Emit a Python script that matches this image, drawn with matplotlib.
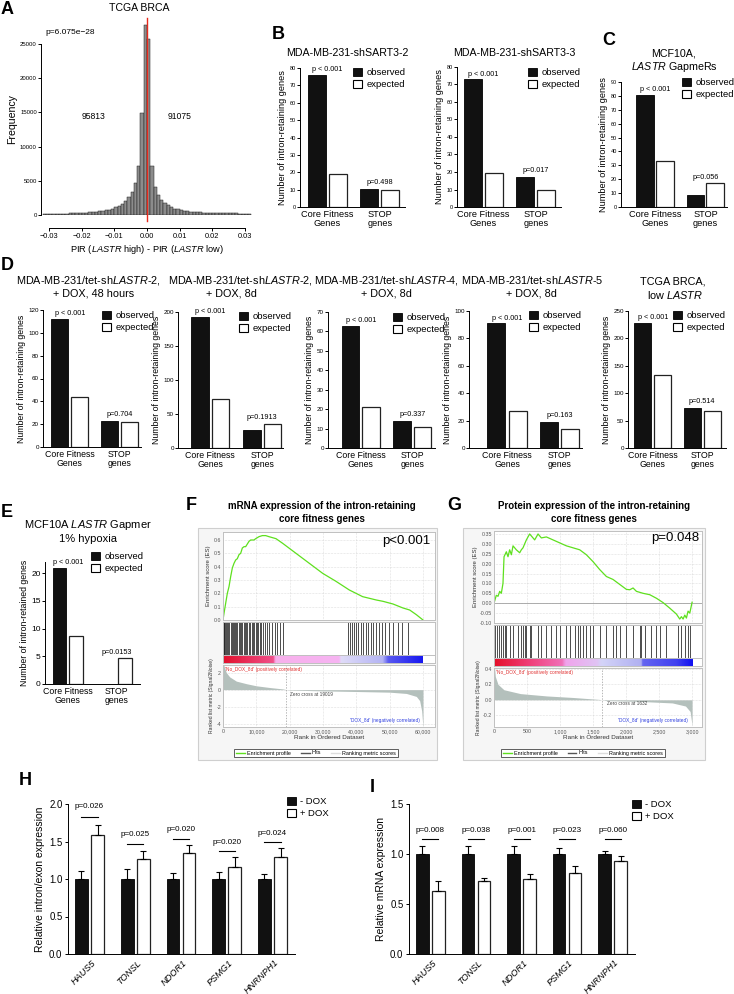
import numpy as np
import matplotlib.pyplot as plt
from matplotlib.patches import Patch, Rectangle
from matplotlib.lines import Line2D
from matplotlib.colors import LinearSegmentedColormap

plt.rcParams['font.family'] = ['Liberation Sans', 'DejaVu Sans']
plt.rcParams['mathtext.fontset'] = 'custom'
plt.rcParams['mathtext.rm'] = 'Liberation Sans'
plt.rcParams['mathtext.it'] = 'Liberation Sans:italic'
plt.rcParams['axes.linewidth'] = 0.7
plt.rcParams['xtick.major.width'] = 0.7
plt.rcParams['ytick.major.width'] = 0.7

W, H = 734, 994

# ---------------- data ----------------
# A: PIR(LASTR high) - PIR(LASTR low), bins of 0.001 from -0.032
pir_start = -0.032
pir_bin = 0.001
pir_counts_neg = [120, 130, 140, 150, 160, 175, 190, 210, 230, 250, 270, 300, 330, 360, 400, 450,
                  500, 560, 620, 700, 800, 950, 1100, 1300, 1600, 2000, 2600, 3300, 4700, 7200,
                  14900, 27800]
pir_counts_pos = [25700, 7100, 4100, 2900, 2200, 1700, 1400, 1150, 950, 830, 730, 640, 560, 500,
                  450, 410, 380, 350, 330, 310, 290, 280, 270, 260, 250, 240, 230, 220, 210, 200,
                  190, 180]

groups = ['Core Fitness\nGenes', 'STOP\ngenes']
# observed / expected intron-retaining genes  [core fitness, STOP]
b1_obs, b1_exp, b1_p = [76, 10.5], [19, 10], ['p < 0.001', 'p=0.498']
b2_obs, b2_exp, b2_p = [73, 17], [19.5, 10], ['p < 0.001', 'p=0.017']
c_obs, c_exp, c_p = [81, 9], [33, 17], ['p < 0.001', 'p=0.056']
d1_obs, d1_exp, d1_p = [112, 23], [44, 22], ['p < 0.001', 'p=0.704']
d2_obs, d2_exp, d2_p = [193, 27], [72, 36], ['p < 0.001', 'p=0.1913']
d3_obs, d3_exp, d3_p = [63, 14], [21, 11], ['p < 0.001', 'p=0.337']
d4_obs, d4_exp, d4_p = [91, 19], [27, 14], ['p < 0.001', 'p=0.163']
d5_obs, d5_exp, d5_p = [228, 73], [134, 68], ['p < 0.001', 'p=0.514']
e_obs, e_exp, e_p = [21, 0], [8.6, 4.6], ['p < 0.001', 'p=0.0153']

# F: GSEA mRNA
f_es_rank = [0, 300, 800, 1300, 1800, 2300, 2800, 3300, 3800, 4300, 4800, 5300, 5800, 6300, 6800,
             7800, 8300, 9300, 9800, 10800, 11800, 12800, 13800, 15900, 17900, 21900, 25900, 29900,
             33900, 37900, 41900, 46000, 48000, 51000, 54000, 56000, 58000, 60000]
f_es = [0.0, 0.05, 0.125, 0.2, 0.25, 0.325, 0.39, 0.425, 0.45, 0.46, 0.49, 0.5, 0.54, 0.55, 0.55,
        0.59, 0.6, 0.6, 0.61, 0.625, 0.633, 0.633, 0.625, 0.61, 0.575, 0.5, 0.425, 0.35, 0.29,
        0.225, 0.175, 0.15, 0.14, 0.12, 0.09, 0.075, 0.04, 0.0]
f_hits = [150, 400, 700, 1000, 1300, 1500, 1900, 2300, 2600, 2900, 3300, 3600, 4000, 4300, 4700,
          5100, 5500, 5800, 6200, 6600, 7000, 7300, 7800, 8200, 8600, 9000, 9300, 9800, 10200,
          10600, 11000, 11500, 12000, 12600, 13200, 13900, 14600, 15500, 16200, 17000, 17900,
          37400, 38000, 38700, 39200, 39900, 40500, 41300, 42000, 42800, 43500, 44300, 45000,
          45900, 46800, 47600, 48700, 49800, 51000, 52500, 53600, 55500]
f_rank_x = [0, 300, 1000, 2000, 4000, 7000, 10000, 14000, 18000, 19019, 20000, 30000, 40000, 50000,
            55000, 58000, 59000, 59600, 60000]
f_rank_y = [3.5, 2.8, 2.0, 1.5, 1.0, 0.7, 0.45, 0.25, 0.08, 0.0, -0.05, -0.15, -0.22, -0.3, -0.45,
            -0.8, -1.3, -2.5, -4.5]

# G: GSEA protein
g_es_rank = [0, 35, 61, 86, 111, 136, 152, 187, 212, 237, 263, 288, 338, 389, 414, 439, 490, 540,
             591, 616, 667, 717, 793, 894, 995, 1096, 1197, 1298, 1399, 1500, 1601, 1702, 1803, 1904,
             2005, 2056, 2106, 2157, 2258, 2359, 2460, 2561, 2662, 2763, 2813, 2838, 2864, 2889, 2914,
             2939, 2965, 3000]
g_es = [0.0, 0.04, 0.035, 0.06, 0.05, 0.10, 0.235, 0.26, 0.235, 0.27, 0.245, 0.29, 0.27, 0.255,
        0.27, 0.28, 0.32, 0.35, 0.33, 0.32, 0.35, 0.33, 0.335, 0.32, 0.305, 0.29, 0.28, 0.27, 0.245,
        0.21, 0.17, 0.135, 0.12, 0.095, 0.07, 0.068, 0.077, 0.06, 0.05, 0.043, 0.025, 0.003, -0.025,
        -0.055, -0.08, -0.068, -0.08, -0.06, -0.075, -0.04, -0.05, 0.005]
g_hits = [10, 45, 76, 111, 136, 162, 187, 237, 288, 364, 414, 439, 465, 490, 540, 566, 667, 717,
          793, 869, 944, 995, 1096, 1146, 1222, 1273, 1298, 1348, 1399, 1449, 1500, 1601, 1702,
          1803, 1854, 1904, 2005, 2106, 2207, 2232, 2283, 2384, 2460, 2510, 2611, 2788, 2838, 2889,
          2939, 2965]
g_rank_x = [0, 20, 60, 150, 400, 800, 1200, 1600, 1632, 1700, 2200, 2700, 2900, 2970, 3000]
g_rank_y = [0.5, 0.3, 0.2, 0.13, 0.08, 0.05, 0.03, 0.005, 0.0, -0.01, -0.02, -0.04, -0.08, -0.15, -0.33]

# H / I: qPCR
genes = ['HAUS5', 'TONSL', 'NDOR1', 'PSMG1', 'HNRNPH1']
h_minus = [1.0, 1.0, 1.0, 1.0, 1.0]
h_minus_err = [0.11, 0.14, 0.08, 0.09, 0.07]
h_plus = [1.59, 1.27, 1.35, 1.16, 1.29]
h_plus_err = [0.125, 0.11, 0.10, 0.13, 0.12]
h_p = ['p=0.026', 'p=0.025', 'p=0.020', 'p=0.020', 'p=0.024']
i_minus = [1.0, 1.0, 1.0, 1.0, 1.0]
i_minus_err = [0.08, 0.08, 0.08, 0.056, 0.033]
i_plus = [0.635, 0.727, 0.748, 0.807, 0.934]
i_plus_err = [0.092, 0.037, 0.049, 0.07, 0.043]
i_p = ['p=0.008', 'p=0.038', 'p=0.001', 'p=0.023', 'p=0.060']

fig = plt.figure(figsize=(W / 100, H / 100), dpi=100)


def ax_px(x0, y0, x1, y1):
    return fig.add_axes([x0 / W, 1 - y1 / H, (x1 - x0) / W, (y1 - y0) / H])


def ftext(x, y, s, **kw):
    kw.setdefault('ha', 'center')
    kw.setdefault('va', 'center')
    fig.text(x / W, 1 - y / H, s, **kw)


def letter(x, y, s):
    fig.text(x / W, 1 - y / H, s, fontsize=13, fontweight='bold', ha='left', va='top')


def sq_legend(ax, xy, labels, fs):
    handles = [Patch(facecolor='#111111', edgecolor='black', lw=0.6),
               Patch(facecolor='white', edgecolor='black', lw=0.8)]
    ax.legend(handles, labels, loc='upper left', bbox_to_anchor=(xy[0] / W, 1 - xy[1] / H),
              bbox_transform=fig.transFigure, frameon=False, fontsize=fs, handlelength=1.0,
              handleheight=1.0, handletextpad=0.4, borderpad=0, borderaxespad=0, labelspacing=0.25)


def obs_exp(box, obs, exp, pvals, ymax, ystep, ylabel, leg_xy, pos=(0, 1, 2.5, 3.5),
            xlim=(-0.8, 4.2), tick_fs=4.5, lab_fs=6.6, p_fs=5.2, wid=0.85):
    ax = ax_px(*box)
    ax.bar([pos[0], pos[2]], obs, wid, color='#111111', edgecolor='black', lw=0.6)
    ax.bar([pos[1], pos[3]], exp, wid, color='white', edgecolor='#222222', lw=0.9)
    ax.set_xlim(*xlim)
    ax.set_ylim(0, ymax)
    ax.set_yticks(np.arange(0, ymax + 0.01, ystep))
    ax.tick_params(axis='y', labelsize=tick_fs, length=2, pad=1)
    ax.set_xticks([(pos[0] + pos[1]) / 2, (pos[2] + pos[3]) / 2])
    ax.set_xticklabels(groups, fontsize=lab_fs, linespacing=1.0)
    ax.tick_params(axis='x', length=0, pad=2)
    ax.set_ylabel(ylabel, fontsize=lab_fs, labelpad=2)
    for s in ['top', 'right']:
        ax.spines[s].set_visible(False)
    ax.text((pos[0] + pos[1]) / 2, obs[0] + ymax * 0.012, pvals[0], ha='center', va='bottom',
            fontsize=p_fs)
    ax.text((pos[2] + pos[3]) / 2, max(obs[1], exp[1]) + ymax * 0.02, pvals[1], ha='center',
            va='bottom', fontsize=p_fs)
    sq_legend(ax, leg_xy, ['observed', 'expected'], 6.8)
    return ax


# ---------------- A ----------------
letter(1, 1, 'A')
ax = ax_px(41, 23.5, 253, 215)
edges = pir_start + np.arange(len(pir_counts_neg) + len(pir_counts_pos)) * pir_bin
ax.bar(edges, pir_counts_neg + pir_counts_pos, width=pir_bin, align='edge', color='#8c8c8c',
       edgecolor='#1e1e1e', lw=0.35)
ax.plot([0, 0], [-900, 28800], color='#e8291c', lw=1.0, clip_on=False)
ax.set_xlim(-0.0325, 0.0325)
ax.set_ylim(0, 28000)
ax.spines['bottom'].set_position(('outward', 9))
ax.spines['bottom'].set_bounds(-0.03, 0.03)
ax.spines['left'].set_bounds(0, 25000)
for s in ['top', 'right']:
    ax.spines[s].set_visible(False)
ax.set_xticks(np.round(np.arange(-0.03, 0.031, 0.01), 2))
ax.set_xticklabels(['\u22120.03', '\u22120.02', '\u22120.01', '0.00', '0.01', '0.02', '0.03'])
ax.tick_params(axis='x', labelsize=5.3, length=2.5, pad=1.5)
ax.set_yticks(np.arange(0, 25001, 5000))
ax.tick_params(axis='y', labelsize=4.3, length=2, pad=1)
ax.set_ylabel('Frequency', fontsize=7.6, labelpad=2)
ax.set_xlabel(r'PIR ($\it{LASTR}$ high) - PIR ($\it{LASTR}$ low)', fontsize=6.7, labelpad=2)
ftext(139, 8, 'TCGA BRCA', fontsize=7.6)
ftext(45, 32, 'p=6.075e\u221228', fontsize=6, ha='left')
ftext(94, 117, '95813', fontsize=6.2)
ftext(180, 117, '91075', fontsize=6.2)

# ---------------- B / C ----------------
ylab = 'Number of intron-retaining genes'
letter(272, 26, 'B')
obs_exp((300, 68, 405, 207), b1_obs, b1_exp, b1_p, 80, 10, ylab, (353, 68), tick_fs=4)
ftext(347, 53, 'MDA-MB-231-shSART3-2', fontsize=7.7)
obs_exp((457, 67, 561, 207), b2_obs, b2_exp, b2_p, 80, 10, ylab, (528, 68), tick_fs=4,
        xlim=(-0.75, 4.2))
ftext(514, 53, 'MDA-MB-231-shSART3-3', fontsize=7.7)
letter(602, 32, 'C')
obs_exp((621, 82, 727, 207), c_obs, c_exp, c_p, 90, 10, ylab, (682, 78), tick_fs=4,
        pos=(0, 0.95, 2.4, 3.35), xlim=(-1.14, 3.9))
ftext(674, 53, 'MCF10A,', fontsize=7.7)
ftext(674, 67, r'$\it{LASTR}$ GapmeRs', fontsize=7.7)

# ---------------- D ----------------
letter(1, 257, 'D')
obs_exp((43, 310, 141, 447), d1_obs, d1_exp, d1_p, 120, 20, ylab, (102, 311), lab_fs=6.3,
        xlim=(-0.85, 4.1))
ftext(88, 280, r'MDA-MB-231/tet-sh$\it{LASTR}$-2,', fontsize=7.8)
ftext(94, 293, '+ DOX, 48 hours', fontsize=7.8)
obs_exp((178, 312, 283, 448), d2_obs, d2_exp, d2_p, 200, 50, ylab, (239, 312), lab_fs=6.3,
        xlim=(-1.05, 4.0))
ftext(240, 280, r'MDA-MB-231/tet-sh$\it{LASTR}$-2,', fontsize=7.8)
ftext(231, 293, '+ DOX, 8d', fontsize=7.8)
obs_exp((328, 312, 435, 448), d3_obs, d3_exp, d3_p, 70, 10, ylab, (393, 313), lab_fs=6.3,
        xlim=(-1.1, 4.1))
ftext(386, 280, r'MDA-MB-231/tet-sh$\it{LASTR}$-4,', fontsize=7.8)
ftext(386, 293, '+ DOX, 8d', fontsize=7.8)
obs_exp((469, 311, 582, 448), d4_obs, d4_exp, d4_p, 100, 20, ylab, (529, 311), lab_fs=6.3,
        xlim=(-1.3, 4.05))
ftext(532, 280, r'MDA-MB-231/tet-sh$\it{LASTR}$-5', fontsize=7.8)
ftext(531, 293, '+ DOX, 8d', fontsize=7.8)
obs_exp((628, 311, 726, 448), d5_obs, d5_exp, d5_p, 250, 50, ylab, (673, 311), lab_fs=6.3,
        xlim=(-0.75, 4.2))
ftext(673, 282, 'TCGA BRCA,', fontsize=7.8)
ftext(675, 295, r'low $\it{LASTR}$', fontsize=7.8)

# ---------------- E ----------------
letter(1, 504, 'E')
ax = obs_exp((45, 562, 140, 684), e_obs, e_exp, e_p, 22, 5, 'Number of intron-retained genes',
             (91, 552), pos=(0, 1, 2.9, 3.9), xlim=(-0.85, 4.8), tick_fs=6, lab_fs=6.3, wid=0.8)
ftext(88, 525, r'MCF10A $\it{LASTR}$ Gapmer', fontsize=8)
ftext(88, 539, '1% hypoxia', fontsize=8)


# ---------------- F / G ----------------
def gsea(frame, x0, x1, xmax, es_y0, es_y1, es_x, es_v, es_lim, es_ticks, es_fmt, hits,
         bar_nodes, rk_x, rk_y, rk_lim, rk_ticks, rk_fmt, xticks, xlabels, zero, pval, p_xy,
         leg_xy):
    fx0, fy0, fx1, fy1 = frame
    fig.add_artist(Rectangle((fx0 / W, 1 - fy1 / H), (fx1 - fx0) / W, (fy1 - fy0) / H,
                             transform=fig.transFigure, facecolor='#f6f6f6',
                             edgecolor='#cfcfcf', lw=0.8, zorder=0))
    grey = '#555555'
    # enrichment score
    ax = ax_px(x0, es_y0, x1, es_y1)
    ax.grid(True, ls=':', lw=0.4, color='#c4c4c4')
    ax.axhline(0, color='#a0a0a0', lw=0.6)
    ax.plot(es_x, es_v, color='#5ee01e', lw=0.9)
    ax.set_xlim(0, xmax)
    ax.set_ylim(*es_lim)
    ax.set_xticks(xticks)
    ax.set_xticklabels([])
    ax.set_yticks(es_ticks)
    ax.set_yticklabels([es_fmt % t for t in es_ticks])
    ax.tick_params(length=0, labelsize=3.8, labelcolor=grey, pad=1.5)
    ax.set_ylabel('Enrichment score (ES)', fontsize=4.3, labelpad=1.5, color='#333333')
    for s in ax.spines.values():
        s.set_color('#c0c0c0')
    ftext(p_xy[0], p_xy[1], pval, fontsize=9.5, ha='right')
    # hits
    hx = ax_px(x0, es_y1 + 1.5, x1, es_y1 + 35)
    hx.vlines(hits, 0, 1, color='#1c1c1c', lw=0.55)
    hx.set_xlim(0, xmax)
    hx.set_ylim(0, 1)
    hx.set_xticks([])
    hx.set_yticks([])
    for s in hx.spines.values():
        s.set_color('#c0c0c0')
    # ranking colour bar
    bx = ax_px(x0, es_y1 + 35, x1, es_y1 + 43)
    cmap = LinearSegmentedColormap.from_list('rk', bar_nodes)
    bx.imshow(np.linspace(0, 1, 400)[None, :], aspect='auto', cmap=cmap,
              extent=(0, es_x[-1], 0, 1))
    bx.set_xlim(0, xmax)
    bx.set_ylim(0, 1)
    bx.set_xticks([])
    bx.set_yticks([])
    for s in bx.spines.values():
        s.set_color('#c0c0c0')
    # ranked list metric
    rx = ax_px(x0, es_y1 + 45, x1, 727)
    rx.grid(True, ls=':', lw=0.4, color='#c4c4c4')
    rx.fill_between(rk_x, rk_y, 0, color='#b4c0bc', lw=0)
    rx.axvline(zero, color='#9a9a9a', ls=(0, (2, 2)), lw=0.5)
    rx.set_xlim(0, xmax)
    rx.set_ylim(*rk_lim)
    rx.set_xticks(xticks)
    rx.set_xticklabels(xlabels)
    rx.set_yticks(rk_ticks)
    rx.set_yticklabels([rk_fmt % t for t in rk_ticks])
    rx.tick_params(length=0, labelsize=3.8, labelcolor=grey, pad=1.5)
    rx.set_xlabel('Rank in Ordered Dataset', fontsize=4.6, labelpad=1, color='#333333')
    rx.set_ylabel('Ranked list metric (Signal2Noise)', fontsize=3.6, labelpad=1.5,
                  color='#333333')
    for s in rx.spines.values():
        s.set_color('#c0c0c0')
    rx.text(0.01, 0.97, "'No_DOX_8d' (positively correlated)", transform=rx.transAxes,
            fontsize=3.4, color='#e03030', va='top')
    rx.text(zero * 1.05, rk_lim[0] * 0.12, 'Zero cross at %d' % zero, fontsize=3.4,
            color='#444444', ha='left', va='center')
    rx.text(0.93, 0.06, "'DOX_8d' (negatively correlated)", transform=rx.transAxes,
            fontsize=3.4, color='#3040e0', ha='right', va='bottom')
    leg = fig.legend([Line2D([], [], color='#5ee01e', lw=1.0), Line2D([], [], color='#555555', lw=1.0),
                      Line2D([], [], color='#dddddd', lw=1.0)],
                     ['Enrichment profile', 'Hits', 'Ranking metric scores'], ncol=3, loc='center',
                     bbox_to_anchor=(leg_xy[0] / W, 1 - leg_xy[1] / H), fontsize=3.9, frameon=True,
                     fancybox=False, edgecolor='#444444', framealpha=1, handlelength=1.6,
                     columnspacing=1.8, handletextpad=0.4, borderpad=0.35)
    leg.get_frame().set_linewidth(0.6)


letter(186, 497, 'F')
ftext(322, 506, 'mRNA expression of the intron-retaining', fontsize=7, fontweight='bold')
ftext(322, 519, 'core fitness genes', fontsize=7, fontweight='bold')
f_nodes = [(0.0, '#e2102c'), (0.25, '#f0508a'), (0.262, '#f8b0ec'), (0.58, '#f6b4f2'),
           (0.592, '#e0dcf8'), (0.8, '#b4b4f4'), (0.83, '#5858f0'), (1.0, '#1818f0')]
gsea((198, 528, 437, 760), 223, 435, 63600, 532, 620, f_es_rank, f_es, (0, 0.66),
     np.round(np.arange(0, 0.61, 0.1), 1), '%.1f', f_hits, f_nodes, f_rank_x, f_rank_y,
     (-4.4, 2.9), [-4, -2, 0, 2], '%d', np.arange(0, 60001, 10000),
     ['0', '10,000', '20,000', '30,000', '40,000', '50,000', '60,000'], 19019, 'p<0.001',
     (430, 541), (316, 753))

letter(447, 497, 'G')
ftext(594, 506, 'Protein expression of the intron-retaining', fontsize=7, fontweight='bold')
ftext(594, 519, 'core fitness genes', fontsize=7, fontweight='bold')
g_nodes = [(0.0, '#e4102a'), (0.18, '#f0407a'), (0.34, '#f070b8'), (0.36, '#f0a4ec'),
           (0.52, '#e0c4f4'), (0.54, '#d4d4f8'), (0.74, '#b0b0f2'), (0.75, '#6464f0'),
           (0.92, '#4040f0'), (1.0, '#1010f0')]
gsea((463, 528, 705, 760), 494, 702, 3150, 531, 623, g_es_rank, g_es, (-0.10, 0.365),
     np.round(np.arange(-0.10, 0.351, 0.05), 2), '%.2f', g_hits, g_nodes, g_rank_x, g_rank_y,
     (-0.35, 0.41), [-0.2, 0.0, 0.2, 0.4], '%.1f', np.arange(0, 3001, 500),
     ['0', '500', '1,000', '1,500', '2,000', '2,500', '3,000'], 1632, 'p=0.048',
     (699, 538), (583, 753))


# ---------------- H / I ----------------
def dox(box, minus, minus_err, plus, plus_err, pvals, p_y, line_y, ymax, ylabel, leg_xy):
    ax = ax_px(*box)
    g = np.arange(len(genes)) * 2.85
    zeros = np.zeros(len(genes))
    ek = dict(lw=0.8, capthick=0.8)
    ax.bar(g, minus, 0.8, color='#111111', edgecolor='black', lw=0.6,
           yerr=[zeros, minus_err], capsize=2.5, error_kw=ek)
    ax.bar(g + 1, plus, 0.8, color='white', edgecolor='#222222', lw=0.9,
           yerr=[zeros, plus_err], capsize=2.5, error_kw=ek)
    for k in range(len(genes)):
        ax.text(g[k] + 0.5, p_y[k], pvals[k], ha='center', va='center', fontsize=5.8)
        ax.plot([g[k], g[k] + 1], [line_y[k], line_y[k]], color='black', lw=0.8)
    ax.set_xlim(-0.84, 13.3)
    ax.set_ylim(0, ymax)
    ax.set_yticks(np.arange(0, ymax + 0.01, 0.5))
    ax.set_yticklabels(['%.1f' % t for t in np.arange(0, ymax + 0.01, 0.5)])
    ax.tick_params(axis='y', labelsize=6.9, length=2.5, pad=1.5)
    ax.set_xticks(g + 0.6)
    ax.set_xticklabels(genes, rotation=45, ha='right', rotation_mode='anchor',
                       fontstyle='italic', fontsize=6.6)
    ax.tick_params(axis='x', length=0, pad=3)
    ax.set_ylabel(ylabel, fontsize=7.5, labelpad=3)
    for s in ['top', 'right']:
        ax.spines[s].set_visible(False)
    sq_legend(ax, leg_xy, ['- DOX', '+ DOX'], 6.8)


letter(19, 772, 'H')
dox((68, 804, 295, 954), h_minus, h_minus_err, h_plus, h_plus_err, h_p,
    [1.96, 1.60, 1.66, 1.49, 1.61], [1.83, 1.47, 1.53, 1.37, 1.49], 2.0,
    'Relative intron/exon expression', (287, 797))
letter(370, 779, 'I')
dox((409, 804, 635, 954), i_minus, i_minus_err, i_plus, i_plus_err, i_p,
    [1.24] * 5, [1.146] * 5, 1.5, 'Relative mRNA expression', (632, 800))

fig.savefig('out.png', dpi=100)
